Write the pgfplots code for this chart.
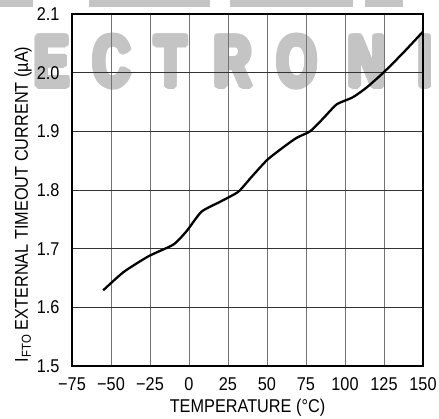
\documentclass[border=0pt]{standalone}
\usepackage{pgfplots}
\pgfplotsset{compat=1.18}
\usepackage{contour}
\usepackage{fontspec}
\setmainfont{Liberation Sans}[FakeStretch=0.88]
\newfontfamily\wmfont{Liberation Sans}[FakeStretch=0.72]
\contourlength{2.8pt}
\contournumber{12}

\begin{document}
\begin{tikzpicture}
\path[use as bounding box] (-72pt,-53pt) rectangle (367pt,366pt);

% faint watermark behind the chart
\fill[black!23] (-72pt,359pt) rectangle (-39pt,366pt);
\fill[black!23] (17pt,359pt) rectangle (138pt,366pt);
\fill[black!23] (158pt,359pt) rectangle (281pt,366pt);
\fill[black!23] (293pt,359pt) rectangle (331pt,366pt);
\begin{scope}[every node/.style={text=black!23, font=\wmfont\bfseries\fontsize{72}{72}\selectfont, anchor=center, inner sep=0pt}]
\node at (-20pt,303pt) {\contour{black!23}{E}};
\node at (40pt,303pt) {\contour{black!23}{C}};
\node at (99pt,303pt) {\contour{black!23}{T}};
\node at (161pt,303pt) {\contour{black!23}{R}};
\node at (225pt,303pt) {\contour{black!23}{O}};
\node at (295pt,303pt) {\contour{black!23}{N}};
\node at (353pt,303pt) {\contour{black!23}{I}};
\end{scope}

\begin{axis}[
    at={(0,0)}, anchor=south west,
    scale only axis,
    width=351pt, height=352pt,
    xmin=-75, xmax=150,
    ymin=1.5, ymax=2.1,
    xtick={-75,-50,-25,0,25,50,75,100,125,150},
    xticklabels={−75,−50,−25,0,25,50,75,100,125,150},
    ytick={1.5,1.6,1.7,1.8,1.9,2.0,2.1},
    yticklabels={1.5,1.6,1.7,1.8,1.9,2.0,2.1},
    major tick length=0pt,
    xmajorgrids=true, ymajorgrids=true,
    x grid style={black!55, line width=0.9pt},
    y grid style={black!80, line width=0.7pt},
    axis line style={line width=1.2pt},
    ticklabel style={font=\fontsize{18.5}{21}\selectfont},
    xticklabel style={anchor=north, yshift=-8pt},
    yticklabel style={anchor=east, xshift=-9pt},
    xlabel={TEMPERATURE (°C)},
    ylabel={I\textsubscript{FTO} EXTERNAL TIMEOUT CURRENT (µA)},
    every axis x label/.append style={at={(axis description cs:0.5,0)}, anchor=base, yshift=-47pt, font=\fontsize{18.5}{21}\selectfont},
    every axis y label/.append style={at={(axis description cs:0,0.459)}, anchor=center, yshift=49pt, font=\fontsize{18.5}{21}\selectfont},
]
\addplot[black, line width=2.3pt, smooth, tension=0.35] coordinates {
    (-55,1.629)(-42,1.660)(-26,1.687)(-10,1.707)(-1.5,1.730)(8,1.763)
    (20,1.780)(31.6,1.797)(40,1.822)(50,1.851)(60,1.872)(69,1.889)
    (77.6,1.900)(86,1.922)(94.7,1.946)(105,1.958)(114,1.975)(124.6,2.000)
    (137,2.033)(150,2.070)
};
\end{axis}
\end{tikzpicture}
\end{document}
